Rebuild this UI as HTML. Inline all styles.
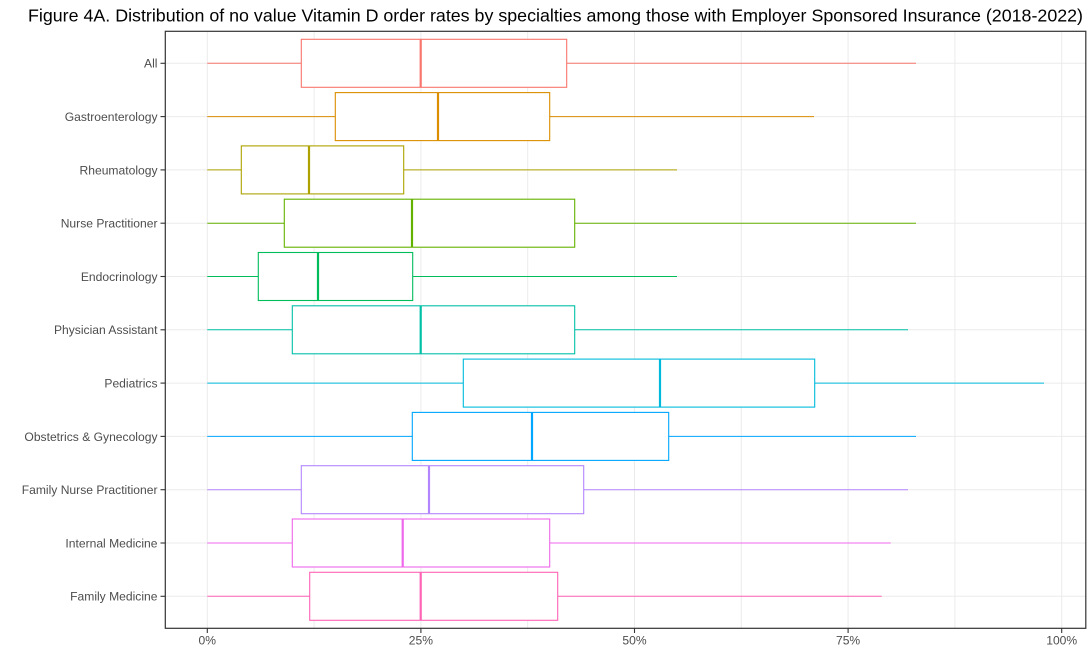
<!DOCTYPE html>
<html>
<head>
<meta charset="utf-8">
<style>
html,body{margin:0;padding:0;background:#fff;}
svg{display:block;}
text{font-family:"Liberation Sans",Arial,sans-serif;}
</style>
</head>
<body>
<svg width="1090" height="652" viewBox="0 0 1090 652" xmlns="http://www.w3.org/2000/svg">
<rect x="0" y="0" width="1090" height="652" fill="#fff"/>
<text x="28" y="21.5" font-size="17.6" fill="#000" textLength="1055" lengthAdjust="spacingAndGlyphs">Figure 4A. Distribution of no value Vitamin D order rates by specialties among those with Employer Sponsored Insurance (2018-2022)</text>

<!-- grid -->
<g stroke="#ebebeb" stroke-width="1" fill="none">
<line x1="207.3" y1="31" x2="207.3" y2="628"/>
<line x1="314.1" y1="31" x2="314.1" y2="628"/>
<line x1="420.9" y1="31" x2="420.9" y2="628"/>
<line x1="527.7" y1="31" x2="527.7" y2="628"/>
<line x1="634.5" y1="31" x2="634.5" y2="628"/>
<line x1="741.3" y1="31" x2="741.3" y2="628"/>
<line x1="848.1" y1="31" x2="848.1" y2="628"/>
<line x1="954.9" y1="31" x2="954.9" y2="628"/>
<line x1="1061.7" y1="31" x2="1061.7" y2="628"/>
<line x1="165" y1="63.3" x2="1086" y2="63.3"/>
<line x1="165" y1="116.6" x2="1086" y2="116.6"/>
<line x1="165" y1="169.9" x2="1086" y2="169.9"/>
<line x1="165" y1="223.2" x2="1086" y2="223.2"/>
<line x1="165" y1="276.5" x2="1086" y2="276.5"/>
<line x1="165" y1="329.8" x2="1086" y2="329.8"/>
<line x1="165" y1="383.1" x2="1086" y2="383.1"/>
<line x1="165" y1="436.4" x2="1086" y2="436.4"/>
<line x1="165" y1="489.7" x2="1086" y2="489.7"/>
<line x1="165" y1="543.0" x2="1086" y2="543.0"/>
<line x1="165" y1="596.3" x2="1086" y2="596.3"/>
</g>

<!-- boxes -->
<g fill="#fff">
<g stroke="#F8766D">
<line x1="207.3" y1="63.3" x2="301.3" y2="63.3" stroke-width="1"/>
<line x1="566.7" y1="63.3" x2="916" y2="63.3" stroke-width="1"/>
<rect x="301.3" y="39.3" width="265.4" height="48" stroke-width="1.1"/>
<line x1="420.7" y1="39.3" x2="420.7" y2="87.3" stroke-width="2.2"/>
</g>
<g stroke="#DB8E00">
<line x1="207.3" y1="116.6" x2="335.3" y2="116.6" stroke-width="1"/>
<line x1="549.7" y1="116.6" x2="814" y2="116.6" stroke-width="1"/>
<rect x="335.3" y="92.6" width="214.4" height="48" stroke-width="1.1"/>
<line x1="438" y1="92.6" x2="438" y2="140.6" stroke-width="2.2"/>
</g>
<g stroke="#AEA200">
<line x1="207.3" y1="169.9" x2="241.3" y2="169.9" stroke-width="1"/>
<line x1="403.7" y1="169.9" x2="677" y2="169.9" stroke-width="1"/>
<rect x="241.3" y="145.9" width="162.4" height="48" stroke-width="1.1"/>
<line x1="309" y1="145.9" x2="309" y2="193.9" stroke-width="2.2"/>
</g>
<g stroke="#64B200">
<line x1="207.3" y1="223.2" x2="284.3" y2="223.2" stroke-width="1"/>
<line x1="574.7" y1="223.2" x2="916" y2="223.2" stroke-width="1"/>
<rect x="284.3" y="199.2" width="290.4" height="48" stroke-width="1.1"/>
<line x1="412" y1="199.2" x2="412" y2="247.2" stroke-width="2.2"/>
</g>
<g stroke="#00BD5C">
<line x1="207.3" y1="276.5" x2="258.3" y2="276.5" stroke-width="1"/>
<line x1="412.7" y1="276.5" x2="677" y2="276.5" stroke-width="1"/>
<rect x="258.3" y="252.5" width="154.4" height="48" stroke-width="1.1"/>
<line x1="318" y1="252.5" x2="318" y2="300.5" stroke-width="2.2"/>
</g>
<g stroke="#00C1A7">
<line x1="207.3" y1="329.8" x2="292.3" y2="329.8" stroke-width="1"/>
<line x1="574.7" y1="329.8" x2="908" y2="329.8" stroke-width="1"/>
<rect x="292.3" y="305.8" width="282.4" height="48" stroke-width="1.1"/>
<line x1="420.7" y1="305.8" x2="420.7" y2="353.8" stroke-width="2.2"/>
</g>
<g stroke="#00BADE">
<line x1="207.3" y1="383.1" x2="463.3" y2="383.1" stroke-width="1"/>
<line x1="814.7" y1="383.1" x2="1044" y2="383.1" stroke-width="1"/>
<rect x="463.3" y="359.1" width="351.4" height="48" stroke-width="1.1"/>
<line x1="660" y1="359.1" x2="660" y2="407.1" stroke-width="2.2"/>
</g>
<g stroke="#00A6FF">
<line x1="207.3" y1="436.4" x2="412.3" y2="436.4" stroke-width="1"/>
<line x1="668.7" y1="436.4" x2="916" y2="436.4" stroke-width="1"/>
<rect x="412.3" y="412.4" width="256.4" height="48" stroke-width="1.1"/>
<line x1="532" y1="412.4" x2="532" y2="460.4" stroke-width="2.2"/>
</g>
<g stroke="#B385FF">
<line x1="207.3" y1="489.7" x2="301.3" y2="489.7" stroke-width="1"/>
<line x1="583.7" y1="489.7" x2="908" y2="489.7" stroke-width="1"/>
<rect x="301.3" y="465.7" width="282.4" height="48" stroke-width="1.1"/>
<line x1="429" y1="465.7" x2="429" y2="513.7" stroke-width="2.2"/>
</g>
<g stroke="#EF67EB">
<line x1="207.3" y1="543.0" x2="292.3" y2="543.0" stroke-width="1"/>
<line x1="549.7" y1="543.0" x2="890.7" y2="543.0" stroke-width="1"/>
<rect x="292.3" y="519.0" width="257.4" height="48" stroke-width="1.1"/>
<line x1="402.7" y1="519.0" x2="402.7" y2="567.0" stroke-width="2.2"/>
</g>
<g stroke="#FF63B6">
<line x1="207.3" y1="596.3" x2="309.7" y2="596.3" stroke-width="1"/>
<line x1="557.7" y1="596.3" x2="881.7" y2="596.3" stroke-width="1"/>
<rect x="309.7" y="572.3" width="248" height="48" stroke-width="1.1"/>
<line x1="420.7" y1="572.3" x2="420.7" y2="620.3" stroke-width="2.2"/>
</g>
</g>

<!-- panel border -->
<rect x="165.3" y="31.3" width="920.5" height="597" fill="none" stroke="#333333" stroke-width="1.2"/>

<!-- ticks -->
<g stroke="#333333" stroke-width="1.1">
<line x1="160.5" y1="63.3" x2="165" y2="63.3"/>
<line x1="160.5" y1="116.6" x2="165" y2="116.6"/>
<line x1="160.5" y1="169.9" x2="165" y2="169.9"/>
<line x1="160.5" y1="223.2" x2="165" y2="223.2"/>
<line x1="160.5" y1="276.5" x2="165" y2="276.5"/>
<line x1="160.5" y1="329.8" x2="165" y2="329.8"/>
<line x1="160.5" y1="383.1" x2="165" y2="383.1"/>
<line x1="160.5" y1="436.4" x2="165" y2="436.4"/>
<line x1="160.5" y1="489.7" x2="165" y2="489.7"/>
<line x1="160.5" y1="543.0" x2="165" y2="543.0"/>
<line x1="160.5" y1="596.3" x2="165" y2="596.3"/>
<line x1="207.3" y1="628.5" x2="207.3" y2="633"/>
<line x1="420.9" y1="628.5" x2="420.9" y2="633"/>
<line x1="634.5" y1="628.5" x2="634.5" y2="633"/>
<line x1="848.1" y1="628.5" x2="848.1" y2="633"/>
<line x1="1061.7" y1="628.5" x2="1061.7" y2="633"/>
</g>

<!-- y labels -->
<g font-size="12.1" fill="#4D4D4D" text-anchor="end">
<text x="157.5" y="67.7">All</text>
<text x="157.5" y="121.0">Gastroenterology</text>
<text x="157.5" y="174.3">Rheumatology</text>
<text x="157.5" y="227.6">Nurse Practitioner</text>
<text x="157.5" y="280.9">Endocrinology</text>
<text x="157.5" y="334.2">Physician Assistant</text>
<text x="157.5" y="387.5">Pediatrics</text>
<text x="157.5" y="440.8">Obstetrics &amp; Gynecology</text>
<text x="157.5" y="494.1">Family Nurse Practitioner</text>
<text x="157.5" y="547.4">Internal Medicine</text>
<text x="157.5" y="600.7">Family Medicine</text>
</g>

<!-- x labels -->
<g font-size="12.1" fill="#4D4D4D" text-anchor="middle">
<text x="207.3" y="644.7">0%</text>
<text x="420.9" y="644.7">25%</text>
<text x="634.5" y="644.7">50%</text>
<text x="848.1" y="644.7">75%</text>
<text x="1061.7" y="644.7">100%</text>
</g>
</svg>
</body>
</html>
